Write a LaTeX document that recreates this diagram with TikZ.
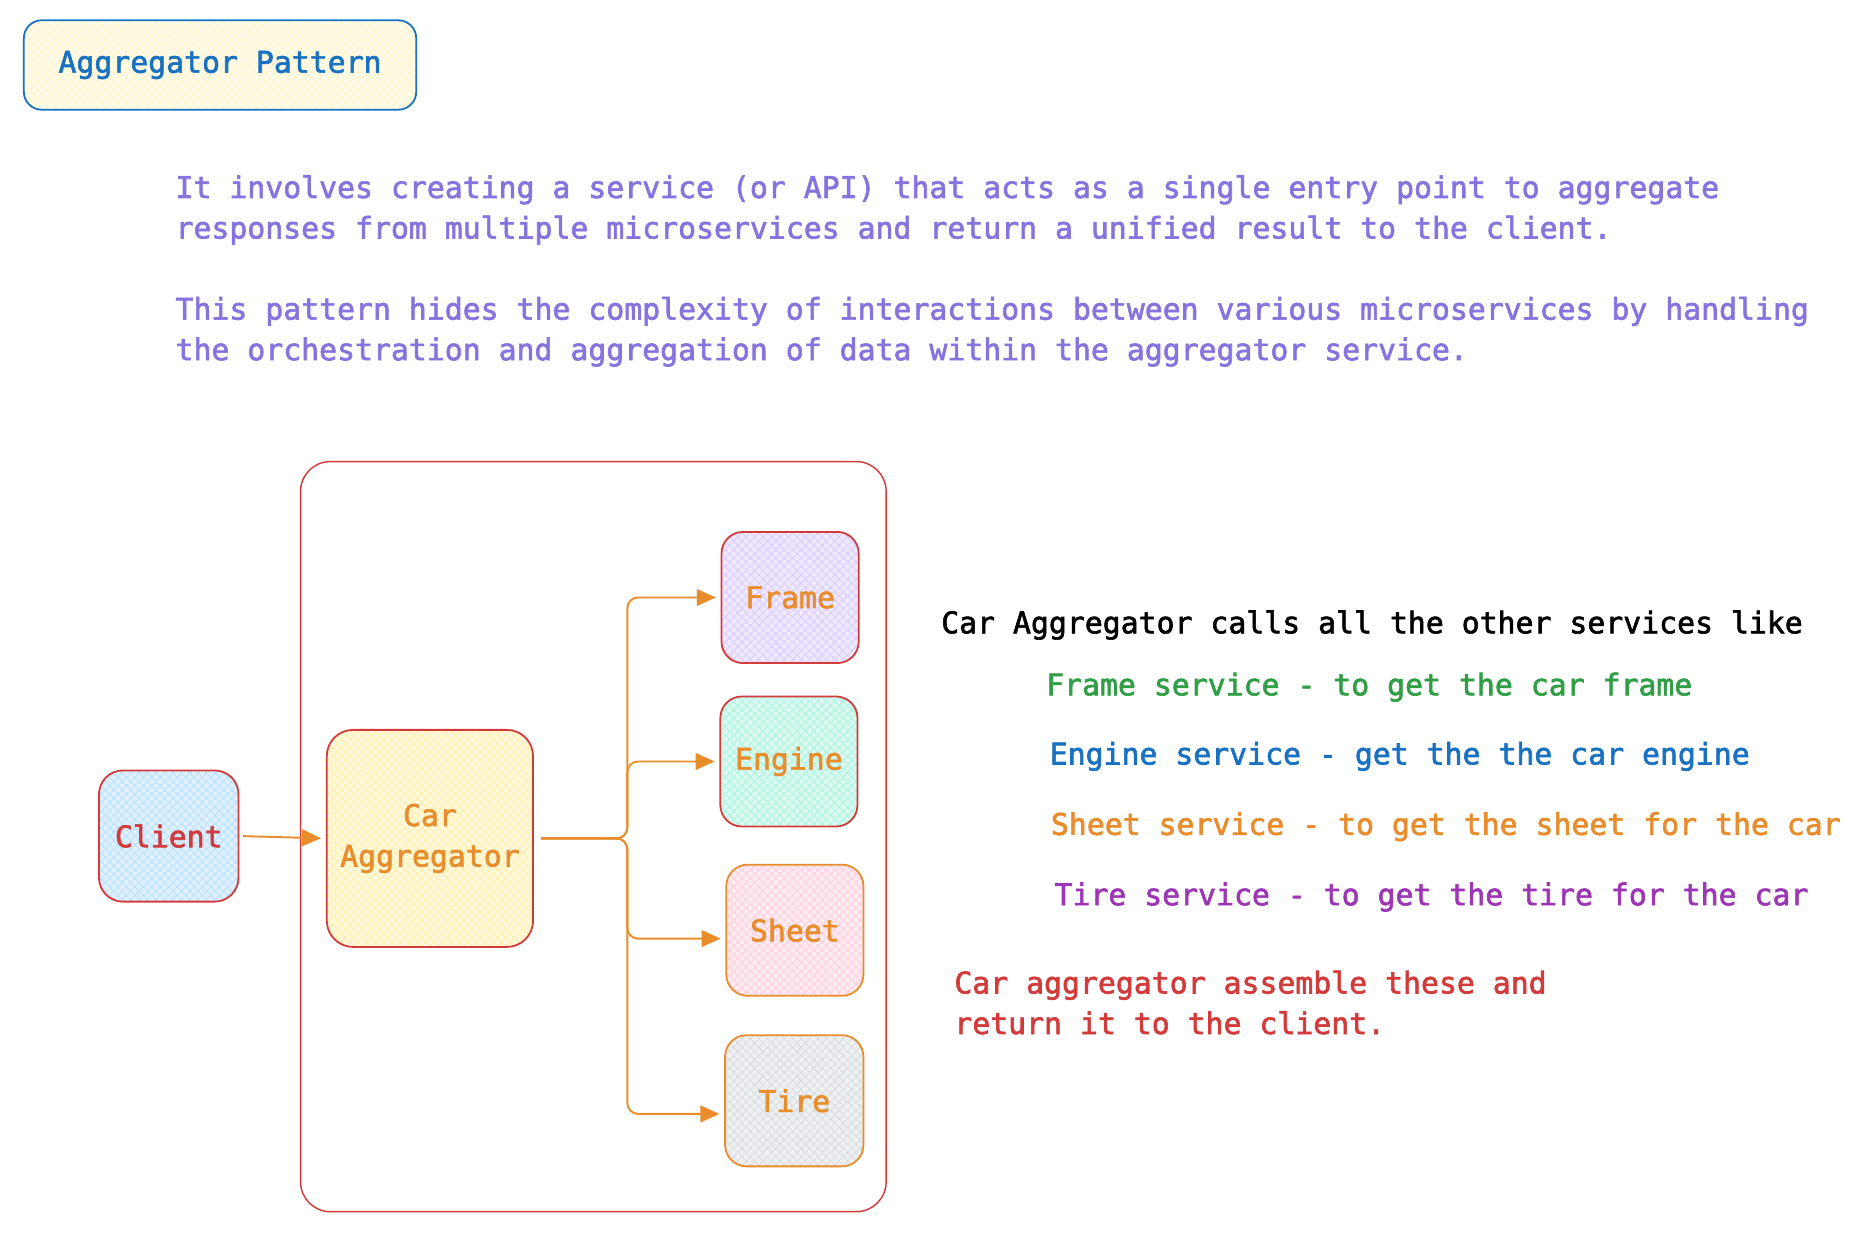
\documentclass[tikz,border=0pt]{standalone}
\usepackage{fontspec}
\setmonofont[FakeBold=2]{DejaVu Sans Mono}
\usetikzlibrary{arrows.meta,patterns.meta}
\definecolor{exblue}{HTML}{1971C2}
\definecolor{exviolet}{HTML}{8673DF}
\definecolor{exgreen}{HTML}{2F9E44}
\definecolor{exorange}{HTML}{E88C2C}
\definecolor{expurple}{HTML}{9C36B5}
\definecolor{exred}{HTML}{D33A3A}
\definecolor{fyellow}{HTML}{FFEC99}
\definecolor{tyellow}{HTML}{FFF3BF}
\definecolor{fblue}{HTML}{A5D8FF}
\definecolor{fviolet}{HTML}{D0BFFF}
\definecolor{fmint}{HTML}{96F2D7}
\definecolor{fpink}{HTML}{FCC2D7}
\definecolor{fgray}{HTML}{CED4DA}
\tikzset{
  txt/.style={font=\ttfamily\fontsize{25}{34}\selectfont, inner sep=0pt},
  hatched/.style={preaction={fill=#1!35}, preaction={pattern={Lines[angle=45,distance=5pt,line width=0.7pt]},pattern color=#1!80}, preaction={pattern={Lines[angle=-45,distance=5pt,line width=0.7pt]},pattern color=#1!80}},
  boxx/.style={draw, line width=1.5pt, txt, align=center},
  arr/.style={draw=exorange, line width=1.6pt, -{Triangle[length=16pt,width=14pt]}, shorten >=4pt, shorten <=3pt},
}
\begin{document}
\begin{tikzpicture}[x=1pt,y=-1pt]
\useasboundingbox[fill=white] (0,0) rectangle (1568,1054.8);
% title
\node[boxx, draw=exblue, hatched=tyellow, rounded corners=15pt, minimum width=329pt, minimum height=75pt, text=exblue] (title) at (184.5,54.5) {Aggregator Pattern};
% description
\node[txt, text=exviolet, anchor=base west] (d1) at (147,166) {It involves creating a service (or API) that acts as a single entry point to aggregate};
\node[txt, text=exviolet, anchor=base west] (d2) at (147,200) {responses from multiple microservices and return a unified result to the client.};
\node[txt, text=exviolet, anchor=base west] (d3) at (147,268) {This pattern hides the complexity of interactions between various microservices by handling};
\node[txt, text=exviolet, anchor=base west] (d4) at (147,302) {the orchestration and aggregation of data within the aggregator service.};
% container
\node[draw=exred, line width=1.2pt, rounded corners=25pt, minimum width=491pt, minimum height=629pt, inner sep=0pt] (cont) at (497.5,701.5) {};
% nodes
\node[boxx, draw=exred, hatched=fblue, rounded corners=20pt, minimum width=117pt, minimum height=110pt, text=exred] (client) at (141.5,701) {Client};
\node[boxx, draw=exred, hatched=fyellow, rounded corners=22pt, minimum width=173pt, minimum height=182pt, text=exorange] (agg) at (360.5,703) {Car\\Aggregator};
\node[boxx, draw=exred, hatched=fviolet, rounded corners=18pt, minimum width=115pt, minimum height=110pt, text=exorange] (frame) at (662.5,501) {Frame};
\node[boxx, draw=exred, hatched=fmint, rounded corners=18pt, minimum width=115pt, minimum height=109pt, text=exorange] (engine) at (661.5,638.5) {Engine};
\node[boxx, draw=exorange, hatched=fpink, rounded corners=18pt, minimum width=115pt, minimum height=110pt, text=exorange] (sheet) at (666.5,780) {Sheet};
\node[boxx, draw=exorange, hatched=fgray, rounded corners=18pt, minimum width=116pt, minimum height=110pt, text=exorange] (tire) at (666,923) {Tire};
% connectors
\coordinate (split) at (526,703);
\draw[arr] (client.east) -- (agg.west);
\draw[arr, rounded corners=9pt] ([xshift=3pt]agg.east) -- (split) |- (frame.west);
\draw[arr, rounded corners=9pt] ([xshift=3pt]agg.east) -- (split) |- (engine.west);
\draw[arr, rounded corners=9pt] ([xshift=3pt]agg.east) -- (split) |- ([yshift=-7pt]sheet.west);
\draw[arr, rounded corners=9pt] ([xshift=3pt]agg.east) -- (split) |- ([yshift=-11pt]tire.west);
% right texts
\node[txt, anchor=base west] (r0) at (789,531) {Car Aggregator calls all the other services like};
\node[txt, text=exgreen, anchor=base west] (r1) at (877,583) {Frame service - to get the car frame};
\node[txt, text=exblue, anchor=base west] (r2) at (880,641) {Engine service - get the the car engine};
\node[txt, text=exorange, anchor=base west] (r3) at (881,700) {Sheet service - to get the sheet for the car};
\node[txt, text=expurple, anchor=base west] (r4) at (884,759) {Tire service - to get the tire for the car};
\node[txt, text=exred, anchor=base west] (r5) at (800,833) {Car aggregator assemble these and};
\node[txt, text=exred, anchor=base west] (r6) at (800,867) {return it to the client.};
\end{tikzpicture}
\end{document}
